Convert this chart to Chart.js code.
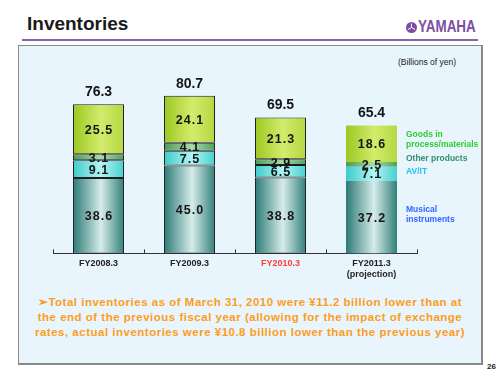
<!DOCTYPE html>
<html>
<head>
<meta charset="utf-8">
<script src="https://cdn.jsdelivr.net/npm/chart.js@4"></script>
<style>
  body { margin: 0; background: #fff; font-family: "Liberation Sans", Arial, sans-serif; }
  #page { position: relative; width: 500px; height: 375px; overflow: hidden; }
  #title { position: absolute; left: 27px; top: 13px; font-size: 19px; font-weight: bold; color: #1a1a1a; }
  #logo { position: absolute; left: 406px; top: 19px; height: 16px; }
  #logo span { position: absolute; left: 12px; top: 0; font-size: 16px; font-weight: bold; color: #7b4fa3;
               transform: scaleX(0.84); transform-origin: left top; line-height: 16px; }
  #rule { position: absolute; left: 22px; top: 39px; width: 456px; height: 2px; background: #8462ad; }
  #panel { position: absolute; left: 18px; top: 45px; width: 462px; height: 317px;
           background: #e8f5fd; border: 1px solid #8a8a8a; border-right-width: 2px; border-bottom-width: 2px; }
  #unit { position: absolute; left: 398px; top: 57px; font-size: 8.5px; color: #222; }
  #note { position: absolute; left: 0; width: 500px; top: 295px; text-align: center; font-size: 11.5px;
          letter-spacing: 0.5px; font-weight: bold; color: #ff9c1a; line-height: 15px; }
  #pageno { position: absolute; left: 487px; top: 362px; font-size: 8px; font-weight: bold; color: #222; }
  canvas { position: absolute; left: 0; top: 0; }
</style>
</head>
<body>
<div id="page">
  <div id="title">Inventories</div>
  <div id="logo">
    <svg width="11" height="11" viewBox="0 0 22 22" style="position:absolute;left:0;top:3px">
      <circle cx="11" cy="11" r="11" fill="#7b4fa3"/>
      <g stroke="#fff" stroke-width="2">
        <line x1="11" y1="3" x2="11" y2="11"/>
        <line x1="11" y1="11" x2="4" y2="15"/>
        <line x1="11" y1="11" x2="18" y2="15"/>
      </g>
    </svg>
    <span>YAMAHA</span>
  </div>
  <div id="rule"></div>
  <div id="panel"></div>
  <div id="unit">(Billions of yen)</div>
  <div id="note">➢Total inventories as of March 31, 2010 were ¥11.2 billion lower than at<br>the end of the previous fiscal year (allowing for the impact of exchange<br>rates, actual inventories were ¥10.8 billion lower than the previous year)</div>
  <div id="pageno">26</div>
  <canvas id="chart" width="500" height="375"></canvas>
</div>
<script>
const categorias = ["FY2008.3", "FY2009.3", "FY2010.3", ["FY2011.3", "(projection)"]];
const musical = [38.6, 45.0, 38.8, 37.2];
const avit = [9.1, 7.5, 6.5, 7.1];
const outros = [3.1, 4.1, 2.9, 2.5];
const goods = [25.5, 24.1, 21.3, 18.6];
const totais = [76.3, 80.7, 69.5, 65.4];

const legendas = [
    { texto: ["Musical", "instruments"], cor: "#3366ff", dy: -7 },
    { texto: ["AV/IT"], cor: "#22c4e8", dy: -2.5 },
    { texto: ["Other products"], cor: "#2f8f6f", dy: -6 },
    { texto: ["Goods in", "process/materials"], cor: "#2ecc2e", dy: -9 }
];

// gradiente horizontal por barra (efeito cilindro)
function gradiente(paradas) {
    return function (ctx) {
        const chart = ctx.chart;
        if (!chart.chartArea || ctx.dataIndex === undefined) return paradas[1];
        const x = chart.scales.x;
        const meio = x.getPixelForValue(ctx.dataIndex);
        const larg = x.width / categorias.length * 0.56;
        const g = chart.ctx.createLinearGradient(meio - larg / 2, 0, meio + larg / 2, 0);
        g.addColorStop(0, paradas[0]);
        g.addColorStop(0.55, paradas[1]);
        g.addColorStop(1, paradas[2]);
        return g;
    };
}

const borda = ctx => ctx.dataIndex === 3 ? 0 : 1;

const rotulos = {
    id: "rotulos",
    afterDatasetsDraw(chart) {
        const c = chart.ctx;
        c.save();
        c.fillStyle = "#151515";
        c.textAlign = "center";
        c.textBaseline = "middle";
        // valores dentro dos segmentos
        c.font = "bold 12.5px 'Liberation Sans', Arial";
        c.letterSpacing = "1px";
        chart.data.datasets.forEach((ds, i) => {
            chart.getDatasetMeta(i).data.forEach((bar, j) => {
                c.fillText(ds.data[j].toFixed(1), bar.x + 0.5, (bar.y + bar.base) / 2 + 1);
            });
        });
        // totais
        c.letterSpacing = "0px";
        c.font = "bold 14px 'Liberation Sans', Arial";
        const topo = chart.getDatasetMeta(3).data;
        topo.forEach((bar, j) => {
            c.fillText(totais[j].toFixed(1), bar.x, bar.y - 12);
        });
        // legenda ao lado da ultima barra
        c.textAlign = "left";
        c.font = "bold 8.5px 'Liberation Sans', Arial";
        legendas.forEach((lg, i) => {
            const bar = chart.getDatasetMeta(i).data[3];
            const xl = bar.x + bar.width / 2 + 9;
            const ym = (bar.y + bar.base) / 2 + lg.dy;
            c.fillStyle = lg.cor;
            lg.texto.forEach((t, k) => c.fillText(t, xl, ym + k * 9.5));
        });
        // marcas do eixo
        const x = chart.scales.x;
        const base = chart.chartArea.bottom;
        c.strokeStyle = "#333";
        c.lineWidth = 1;
        for (let i = 0; i <= categorias.length; i++) {
            const px = Math.round(x.left + i * x.width / categorias.length) + 0.5;
            c.beginPath();
            c.moveTo(px, base);
            c.lineTo(px, base - 4);
            c.stroke();
        }
        c.restore();
    }
};

const ctx = document.getElementById("chart").getContext("2d");
new Chart(ctx, {
    type: "bar",
    data: {
        labels: categorias,
        datasets: [
            { label: "Musical instruments", data: musical, backgroundColor: gradiente(["#2c7a75", "#d6ecea", "#327f7a"]) },
            { label: "AV/IT", data: avit, backgroundColor: gradiente(["#3ccccc", "#b4f4f4", "#46d0d0"]) },
            { label: "Other products", data: outros, backgroundColor: gradiente(["#4a9a55", "#a8dcaa", "#4f9f5a"]) },
            { label: "Goods in process/materials", data: goods, backgroundColor: gradiente(["#9cc820", "#d2ec6c", "#b4d840"]) }
        ]
    },
    options: {
        responsive: false,
        animation: false,
        events: [],
        layout: { padding: { left: 53, right: 83, top: 58, bottom: 90 } },
        datasets: {
            bar: {
                barPercentage: 0.56,
                categoryPercentage: 1,
                borderColor: "#1e1e1e",
                borderWidth: borda,
                borderSkipped: false
            }
        },
        plugins: {
            legend: { display: false },
            tooltip: { enabled: false }
        },
        scales: {
            x: {
                stacked: true,
                grid: { display: false, drawTicks: false },
                border: { display: true, color: "#333", width: 1 },
                ticks: {
                    padding: 5,
                    font: { size: 9, weight: "bold", family: "'Liberation Sans', Arial" },
                    color: c => c.index === 2 ? "#ff3b3b" : "#222"
                }
            },
            y: {
                stacked: true,
                display: false,
                min: 0,
                max: 100
            }
        }
    },
    plugins: [rotulos]
});
</script>
</body>
</html>
